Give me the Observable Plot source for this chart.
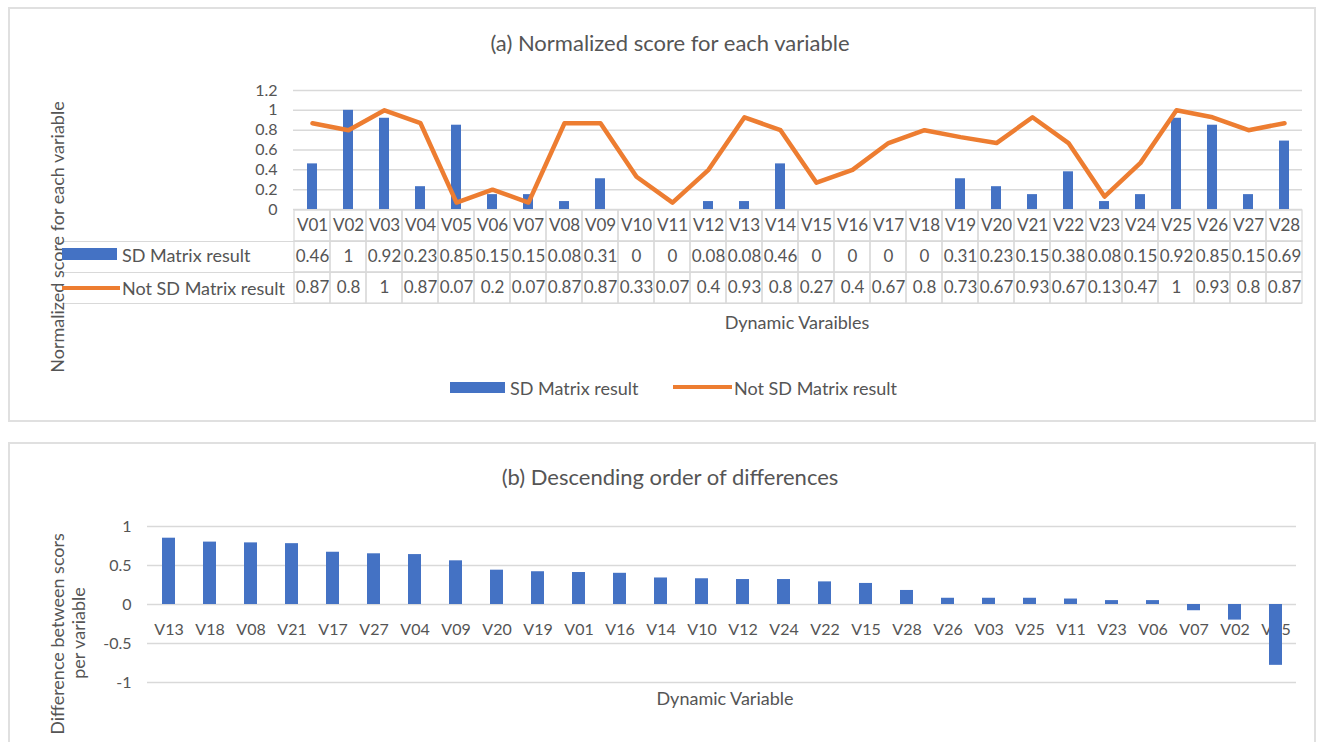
<!DOCTYPE html>
<html><head><meta charset="utf-8">
<script src="https://cdn.jsdelivr.net/npm/d3@7"></script>
<script src="https://cdn.jsdelivr.net/npm/@observablehq/plot@0.6"></script>
<style>
body{margin:0;background:#fff;font-family:Lato,"Open Sans",sans-serif;color:#595959}
#root{position:relative;width:1323px;height:742px;overflow:hidden;background:#fff}
.panel{position:absolute;border:2px solid #e0e0e0;box-sizing:border-box}
.svgbox{position:absolute;left:0}
.t{position:absolute;white-space:nowrap;color:#555;line-height:1}
.c{transform:translate(-50%,-50%)}
.l{transform:translate(0,-50%)}
.rot{transform:translate(-50%,-50%) rotate(-90deg)}
.title{font-size:22px}
.lab{font-size:18px}
.sw{position:absolute}
</style></head>
<body><div id="root">
<div class="panel" style="left:8px;top:7px;width:1308px;height:415px"></div>
<div class="panel" style="left:8px;top:442px;width:1308px;height:320px"></div>
<div id="pa" class="svgbox" style="top:0"></div>
<div id="pb" class="svgbox" style="top:210px"></div>
<div id="pc" class="svgbox" style="top:442px"></div>

<div class="t c title" style="left:670px;top:43px">(a) Normalized score for each variable</div>
<div class="t rot lab" style="left:57px;top:237px">Normalized score for each variable</div>
<div class="sw" style="left:62px;top:248px;width:55px;height:12px;background:#4472C4"></div>
<div class="t l lab" style="left:122px;top:255px">SD Matrix result</div>
<div class="sw" style="left:62px;top:286px;width:58px;height:4px;background:#ED7D31"></div>
<div class="t l lab" style="left:122px;top:288px">Not SD Matrix result</div>
<div class="t c lab" style="left:797px;top:322px">Dynamic Varaibles</div>
<div class="sw" style="left:450px;top:382px;width:55px;height:11px;background:#4472C4"></div>
<div class="t l lab" style="left:510px;top:388px">SD Matrix result</div>
<div class="sw" style="left:673px;top:385px;width:59px;height:4px;background:#ED7D31"></div>
<div class="t l lab" style="left:734px;top:388px">Not SD Matrix result</div>

<div class="t c title" style="left:670px;top:477px">(b) Descending order of differences</div>
<div class="t rot lab" style="left:57px;top:634px">Difference between scors</div>
<div class="t rot lab" style="left:78px;top:633px">per variable</div>
<div class="t c lab" style="left:725px;top:698px">Dynamic Variable</div>
</div>
<script>
const variables = ["V01","V02","V03","V04","V05","V06","V07","V08","V09","V10","V11","V12","V13","V14","V15","V16","V17","V18","V19","V20","V21","V22","V23","V24","V25","V26","V27","V28"];
const sdMatrix = [0.46,1,0.92,0.23,0.85,0.15,0.15,0.08,0.31,0,0,0.08,0.08,0.46,0,0,0,0,0.31,0.23,0.15,0.38,0.08,0.15,0.92,0.85,0.15,0.69];
const notSdMatrix = [0.87,0.8,1,0.87,0.07,0.2,0.07,0.87,0.87,0.33,0.07,0.4,0.93,0.8,0.27,0.4,0.67,0.8,0.73,0.67,0.93,0.67,0.13,0.47,1,0.93,0.8,0.87];
const yTicksA = [0,0.2,0.4,0.6,0.8,1,1.2];

const diffVariables = ["V13","V18","V08","V21","V17","V27","V04","V09","V20","V19","V01","V16","V14","V10","V12","V24","V22","V15","V28","V26","V03","V25","V11","V23","V06","V07","V02","V05"];
const diffValues = [0.85,0.8,0.79,0.78,0.67,0.65,0.64,0.56,0.44,0.42,0.41,0.4,0.34,0.33,0.32,0.32,0.29,0.27,0.18,0.08,0.08,0.08,0.07,0.05,0.05,-0.08,-0.2,-0.78];
const yTicksB = [-1,-0.5,0,0.5,1];

const BLUE = "#4472C4", ORANGE = "#ED7D31", GRID = "#d9d9d9", TXT = "#555";
const baseStyle = {fontFamily:"Lato, 'Open Sans', sans-serif", fontSize:"16px", color:TXT, background:"transparent", overflow:"visible"};

const dataA = variables.map((name,i)=>({name, sd:sdMatrix[i], notsd:notSdMatrix[i]}));

const pa = Plot.plot({
  width:1323, height:212, marginLeft:293, marginRight:21, marginTop:90, marginBottom:3,
  style:baseStyle,
  x:{type:"band", domain:variables, padding:0, axis:null},
  y:{domain:[0,1.2], ticks:yTicksA, tickFormat:d=>String(d), tickSize:0, tickPadding:16, label:null},
  marks:[
    Plot.ruleY(yTicksA, {stroke:GRID, strokeWidth:1.5}),
    Plot.barY(dataA, {x:"name", y:"sd", fill:BLUE, insetLeft:13, insetRight:13}),
    Plot.lineY(dataA, {x:"name", y:"notsd", stroke:ORANGE, strokeWidth:4.5, strokeLinejoin:"round", strokeLinecap:"round"})
  ]
});
document.getElementById("pa").appendChild(pa);

const cells = [];
variables.forEach((name,i)=>{
  cells.push({name, r:0, label:name});
  cells.push({name, r:1, label:String(sdMatrix[i])});
  cells.push({name, r:2, label:String(notSdMatrix[i])});
});
const pb = Plot.plot({
  width:1323, height:95, marginLeft:62, marginRight:21, marginTop:0, marginBottom:1,
  style:baseStyle,
  x:{type:"band", domain:variables, range:[293,1302], padding:0, axis:null},
  y:{domain:[0,3], range:[0,93], axis:null},
  marks:[
    Plot.barY(cells, {x:"name", y1:"r", y2:d=>d.r+1, fill:"none", stroke:GRID, strokeWidth:1.2}),
    Plot.ruleY([1,2,3], {stroke:GRID, strokeWidth:1.2}),
    Plot.text(cells, {x:"name", y:d=>d.r+0.5, text:"label", fontSize:17, fill:TXT})
  ]
});
document.getElementById("pb").appendChild(pb);

const dataC = diffVariables.map((name,i)=>({name, diff:diffValues[i]}));
const pc = Plot.plot({
  width:1323, height:300, marginLeft:147, marginRight:27, marginTop:84, marginBottom:60,
  style:baseStyle,
  x:{type:"band", domain:diffVariables, padding:0, axis:null},
  y:{domain:[-1,1], ticks:yTicksB, tickFormat:d=>String(d), tickSize:0, tickPadding:16, label:null},
  marks:[
    Plot.ruleY(yTicksB, {stroke:GRID, strokeWidth:1.5}),
    Plot.text(dataC, {x:"name", y:()=>0, dy:25, text:"name", fontSize:16, fill:TXT}),
    Plot.barY(dataC, {x:"name", y:"diff", fill:BLUE, insetLeft:14, insetRight:14})
  ]
});
document.getElementById("pc").appendChild(pc);
</script>
</body></html>
